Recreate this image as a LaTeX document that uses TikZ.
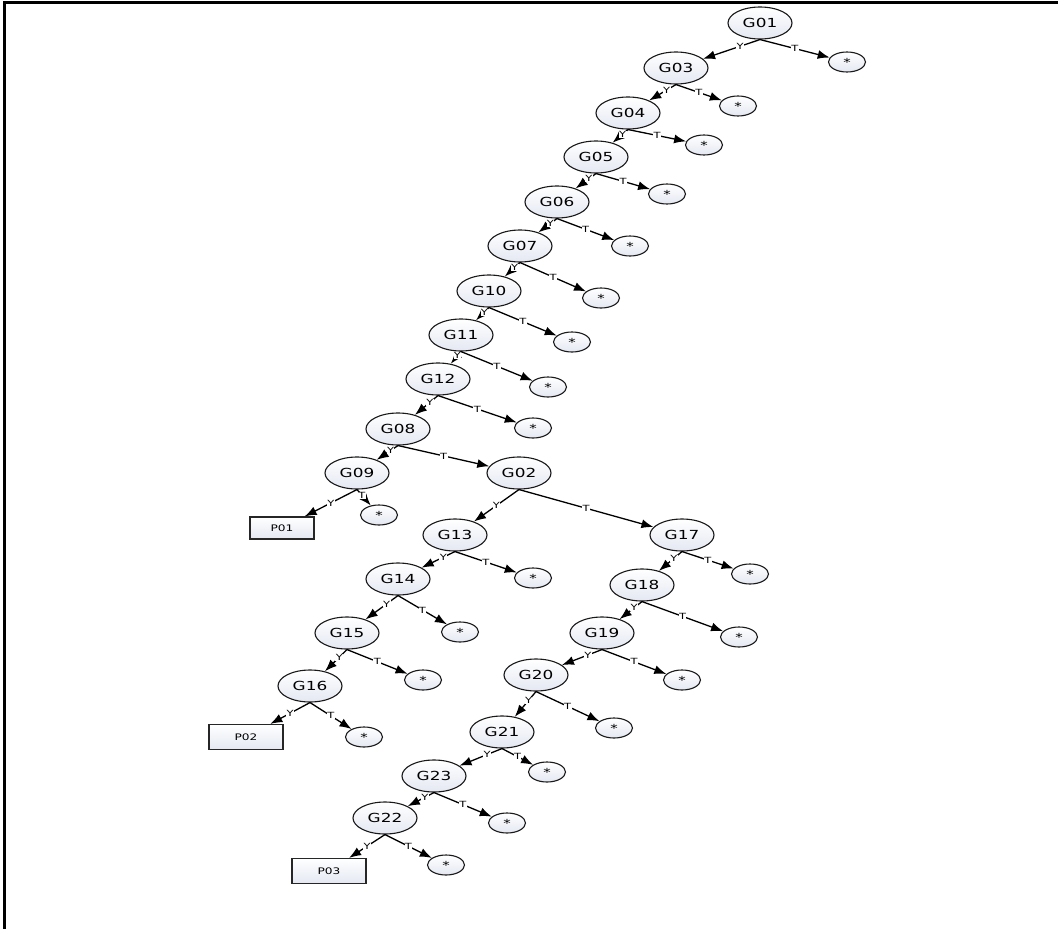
\documentclass[tikz,border=0pt]{standalone}
\usepackage{fontspec}
\setmainfont{DejaVu Sans}[FakeStretch=1.35]
\usetikzlibrary{shapes.geometric,arrows.meta}

\definecolor{nodeshade}{RGB}{228,232,242}

\tikzset{
  gnode/.style={ellipse,draw=black!90,line width=1.1pt,minimum width=64pt,minimum height=32pt,inner sep=0pt,top color=white,bottom color=nodeshade,font=\fontsize{12.5}{13}\selectfont},
  nilnode/.style={ellipse,draw=black!90,line width=1.1pt,minimum width=37pt,minimum height=20pt,inner sep=0pt,top color=white,bottom color=nodeshade,font=\fontsize{11}{11}\selectfont},
  pbox/.style={rectangle,draw=black!85,line width=1.2pt,minimum width=74pt,minimum height=25pt,inner sep=0pt,top color=white,bottom color=nodeshade,font=\fontsize{9}{9}\selectfont},
  lbl/.style={fill=white,inner sep=0.4pt,font=\fontsize{8.5}{9}\selectfont},
  ylbl/.style={lbl,pos=0.35},
  edge/.style={line width=1.3pt,-{Latex[length=12pt,width=9pt]}}
}

\begin{document}
\begin{tikzpicture}[x=1pt,y=-1pt]
\useasboundingbox (0,0) rectangle (1058,929);
\draw[line width=3pt] (4,929) -- (4,2) -- (1058,2);
% main spine
\node[gnode] (G01) at (760,23) {G01};
\node[nilnode] (n01) at (847,62) {*};
\node[gnode] (G03) at (676,68) {G03};
\node[nilnode] (n03) at (738,106) {*};
\node[gnode] (G04) at (628,113) {G04};
\node[nilnode] (n04) at (704,145) {*};
\node[gnode] (G05) at (596,157) {G05};
\node[nilnode] (n05) at (667,194) {*};
\node[gnode] (G06) at (557,202) {G06};
\node[nilnode] (n06) at (630,246) {*};
\node[gnode] (G07) at (520,246) {G07};
\node[nilnode] (n07) at (601,298) {*};
\node[gnode] (G10) at (489,291) {G10};
\node[nilnode] (n10) at (572,342) {*};
\node[gnode] (G11) at (461,335) {G11};
\node[nilnode] (n11) at (548,387) {*};
\node[gnode] (G12) at (438,379) {G12};
\node[nilnode] (n12) at (533,428) {*};
\node[gnode] (G08) at (398,429) {G08};
\node[gnode] (G09) at (357,473) {G09};
\node[pbox,minimum width=64pt,minimum height=22pt] (P01) at (282,528) {P01};
\node[nilnode] (n09) at (379,515) {*};
\node[gnode] (G02) at (519,473) {G02};
% left branch
\node[gnode] (G13) at (455,535) {G13};
\node[nilnode] (n13) at (533,578) {*};
\node[gnode] (G14) at (398,579) {G14};
\node[nilnode] (n14) at (460,632) {*};
\node[gnode] (G15) at (347,633) {G15};
\node[nilnode] (n15) at (423,680) {*};
\node[gnode] (G16) at (310,686) {G16};
\node[pbox] (P02) at (246,737) {P02};
\node[nilnode] (n16) at (364,737) {*};
% right branch
\node[gnode] (G17) at (682,535) {G17};
\node[nilnode] (n17) at (750,574) {*};
\node[gnode] (G18) at (642,585) {G18};
\node[nilnode] (n18) at (739,637) {*};
\node[gnode] (G19) at (602,633) {G19};
\node[nilnode] (n19) at (682,680) {*};
\node[gnode] (G20) at (536,675) {G20};
\node[nilnode] (n20) at (614,728) {*};
\node[gnode] (G21) at (502,732) {G21};
\node[nilnode] (n21) at (547,772) {*};
\node[gnode] (G23) at (434,776) {G23};
\node[nilnode] (n23) at (507,823) {*};
\node[gnode] (G22) at (385,818) {G22};
\node[pbox] (P03) at (329,871) {P03};
\node[nilnode] (n22) at (446,865) {*};
% edges
\draw[edge] (G01.south) -- node[ylbl] {Y} (G03);
\draw[edge] (G01.south) -- node[lbl] {T} (n01);
\draw[edge] (G03.south) -- node[ylbl] {Y} (G04);
\draw[edge] (G03.south) -- node[lbl] {T} (n03);
\draw[edge] (G04.south) -- node[ylbl] {Y} (G05);
\draw[edge] (G04.south) -- node[lbl] {T} (n04);
\draw[edge] (G05.south) -- node[ylbl] {Y} (G06);
\draw[edge] (G05.south) -- node[lbl] {T} (n05);
\draw[edge] (G06.south) -- node[ylbl] {Y} (G07);
\draw[edge] (G06.south) -- node[lbl] {T} (n06);
\draw[edge] (G07.south) -- node[ylbl] {Y} (G10);
\draw[edge] (G07.south) -- node[lbl] {T} (n07);
\draw[edge] (G10.south) -- node[ylbl] {Y} (G11);
\draw[edge] (G10.south) -- node[lbl] {T} (n10);
\draw[edge] (G11.south) -- node[ylbl] {Y} (G12);
\draw[edge] (G11.south) -- node[lbl] {T} (n11);
\draw[edge] (G12.south) -- node[ylbl] {Y} (G08);
\draw[edge] (G12.south) -- node[lbl] {T} (n12);
\draw[edge] (G08.south) -- node[ylbl] {Y} (G09);
\draw[edge] (G08.south) -- node[lbl] {T} (G02);
\draw[edge] (G09.south) -- node[lbl] {Y} (P01);
\draw[edge] (G09.south) -- node[ylbl] {T} (n09);
\draw[edge] (G02.south) -- node[lbl] {Y} (G13);
\draw[edge] (G02.south) -- node[lbl] {T} (G17);
\draw[edge] (G13.south) -- node[ylbl] {Y} (G14);
\draw[edge] (G13.south) -- node[lbl] {T} (n13);
\draw[edge] (G14.south) -- node[ylbl] {Y} (G15);
\draw[edge] (G14.south) -- node[lbl] {T} (n14);
\draw[edge] (G15.south) -- node[ylbl] {Y} (G16);
\draw[edge] (G15.south) -- node[lbl] {T} (n15);
\draw[edge] (G16.south) -- node[lbl] {Y} (P02);
\draw[edge] (G16.south) -- node[lbl] {T} (n16);
\draw[edge] (G17.south) -- node[ylbl] {Y} (G18);
\draw[edge] (G17.south) -- node[lbl] {T} (n17);
\draw[edge] (G18.south) -- node[ylbl] {Y} (G19);
\draw[edge] (G18.south) -- node[lbl] {T} (n18);
\draw[edge] (G19.south) -- node[ylbl] {Y} (G20);
\draw[edge] (G19.south) -- node[lbl] {T} (n19);
\draw[edge] (G20.south) -- node[ylbl] {Y} (G21);
\draw[edge] (G20.south) -- node[lbl] {T} (n20);
\draw[edge] (G21.south) -- node[ylbl] {Y} (G23);
\draw[edge] (G21.south) -- node[lbl] {T} (n21);
\draw[edge] (G23.south) -- node[ylbl] {Y} (G22);
\draw[edge] (G23.south) -- node[lbl] {T} (n23);
\draw[edge] (G22.south) -- node[lbl] {Y} (P03);
\draw[edge] (G22.south) -- node[lbl] {T} (n22);
\end{tikzpicture}
\end{document}
